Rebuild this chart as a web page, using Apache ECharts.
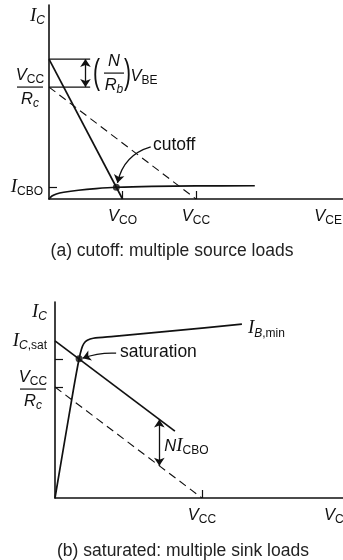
<!DOCTYPE html>
<html>
<head>
<meta charset="utf-8">
<script src="https://cdn.jsdelivr.net/npm/echarts@6/dist/echarts.min.js"></script>
<style>
  html, body { margin: 0; padding: 0; background: #fff; }
  #c { width: 343px; height: 560px; }
</style>
</head>
<body>
<div id="c"></div>
<script>
// ---- Panel (a): cutoff, multiple source loads ----
const aVCO = 25;                 // load-line intercept on V_CE
const aVCC = 50;                 // supply voltage on V_CE
const aVccRc = 60;               // V_CC / R_c on I_C
const aTopIc = 75;               // V_CC/R_c + (N/R_b) V_BE
const aICBO = 6.4;               // leakage level tick
const aBracketEnd = 14;          // length of the bracket guide lines
const aBracketArrowX = 12.4;
const aLoadLine = [[0, aTopIc], [aVCO, 0]];
const aDashedLine = [[0, aVccRc], [aVCC, 0]];
const aLeakCurve = [[0, 0], [1, 1.6], [2.5, 2.7], [5, 3.6], [10, 4.7], [16, 5.6], [22.9, 6.3], [35, 6.8], [50, 7.0], [70, 7.1]];
const aCutoffPoint = [22.9, 6.3];
const aCutoffArrowFrom = [34.6, 27.9];
const aCutoffArrowTo = [23.3, 8.6];

// ---- Panel (b): saturated, multiple sink loads ----
const bVCC = 50;
const bVccRc = 60;
const bICsat = 85;
const bLoadLine = [[0, bICsat], [40.8, 36.2]];
const bDashedLine = [[0, bVccRc], [bVCC, 0]];
const bBaseCurve = [[0, 0], [6.2, 58], [8.2, 75.3], [9.0, 80.5], [9.8, 83.5], [11, 85.3], [13, 86.4], [20, 87.4], [40, 90.4], [63.6, 94]];
const bSatPoint = [8.2, 75.3];
const bSatArrowFrom = [20.8, 78.3];
const bSatArrowTo = [9.4, 75.6];
const bNIcboX = 35.5;
const bNIcbo = [[bNIcboX, 17.4], [bNIcboX, 42.5]];

const ink = '#111';
const axisStyle = { lineStyle: { color: ink, width: 1.6 } };

function plainAxis(gridIndex, max, ticks) {
  return {
    type: 'value', gridIndex, min: 0, max,
    axisLine: Object.assign({ show: true, onZero: false }, axisStyle),
    axisTick: ticks.length
      ? { show: true, inside: true, length: 8, customValues: ticks, lineStyle: { color: ink, width: 1.2 } }
      : { show: false },
    axisLabel: { show: false },
    splitLine: { show: false }
  };
}

function lineSeries(grid, data, opts) {
  return Object.assign({
    type: 'line', xAxisIndex: grid, yAxisIndex: grid, data,
    symbol: 'none', silent: true, animation: false,
    lineStyle: { color: ink, width: 1.7 }
  }, opts || {});
}

function arrowSeries(grid, from, to, both, curveness) {
  return {
    type: 'lines', coordinateSystem: 'cartesian2d', xAxisIndex: grid, yAxisIndex: grid,
    symbol: both ? ['arrow', 'arrow'] : ['none', 'arrow'], symbolSize: 8,
    lineStyle: { color: ink, width: 1.3, curveness: curveness || 0, opacity: 1 },
    silent: true, animation: false, clip: false,
    data: [{ coords: [from, to] }]
  };
}

const dashed = { lineStyle: { color: ink, width: 1.1, type: [8, 5] } };

const chart = echarts.init(document.getElementById('c'), null, { renderer: 'canvas' });

chart.setOption({
  animation: false,
  grid: [
    { left: 49, top: 5, right: 0, bottom: 361 },
    { left: 55, top: 302, right: 0, bottom: 62 }
  ],
  xAxis: [plainAxis(0, 100, [aVCO, aVCC]), plainAxis(1, 98, [bVCC])],
  yAxis: [plainAxis(0, 104, [aICBO]), plainAxis(1, 106, [bSatPoint[1], bVccRc])],
  series: [
    lineSeries(0, aLoadLine),
    lineSeries(0, aDashedLine, dashed),
    lineSeries(0, aLeakCurve, { smooth: 0.3 }),
    lineSeries(0, [[0, aTopIc], [aBracketEnd, aTopIc]], { lineStyle: { color: ink, width: 1.2 } }),
    lineSeries(0, [[0, aVccRc], [aBracketEnd, aVccRc]], { lineStyle: { color: ink, width: 1.2 } }),
    arrowSeries(0, [aBracketArrowX, aVccRc], [aBracketArrowX, aTopIc], true),
    arrowSeries(0, aCutoffArrowFrom, aCutoffArrowTo, false, -0.3),
    { type: 'scatter', xAxisIndex: 0, yAxisIndex: 0, data: [aCutoffPoint], symbolSize: 7,
      itemStyle: { color: ink }, silent: true, animation: false },

    lineSeries(1, bLoadLine),
    lineSeries(1, bDashedLine, dashed),
    lineSeries(1, bBaseCurve, { smooth: 0.25 }),
    arrowSeries(1, bNIcbo[0], bNIcbo[1], true),
    arrowSeries(1, bSatArrowFrom, bSatArrowTo, false, -0.1),
    { type: 'scatter', xAxisIndex: 1, yAxisIndex: 1, data: [bSatPoint], symbolSize: 7,
      itemStyle: { color: ink }, silent: true, animation: false }
  ]
});

// ---- text labels, anchored to axis positions ----
const rich = {
  I: { fontFamily: 'Liberation Serif', fontStyle: 'italic', fontSize: 19, lineHeight: 22 },
  V: { fontFamily: 'Liberation Sans', fontStyle: 'italic', fontSize: 16.5, lineHeight: 22 },
  s: { fontFamily: 'Liberation Sans', fontSize: 12, lineHeight: 12, verticalAlign: 'bottom' },
  si: { fontFamily: 'Liberation Sans', fontStyle: 'italic', fontSize: 12, lineHeight: 12, verticalAlign: 'bottom' }
};
const pa = p => chart.convertToPixel({ gridIndex: 0 }, p);
const pb = p => chart.convertToPixel({ gridIndex: 1 }, p);

function label(x, y, text, align, vAlign, extra) {
  return {
    type: 'text', x, y, silent: true, z: 10,
    style: Object.assign({ text, rich, fill: ink, align, verticalAlign: vAlign,
      fontFamily: 'Liberation Sans', fontSize: 16 }, extra || {})
  };
}
function bar(x1, x2, y) {
  return { type: 'line', silent: true, z: 10,
    shape: { x1, y1: y, x2, y2: y }, style: { stroke: ink, lineWidth: 1.2 } };
}
function fraction(cx, y, num, den, half) {
  return [
    label(cx, y - 1, num, 'center', 'bottom'),
    bar(cx - half, cx + half, y),
    label(cx, y + 1, den, 'center', 'top')
  ];
}
function paren(x, y, ch) {
  return { type: 'text', x, y, scaleY: 1.7, silent: true, z: 10,
    style: { text: ch, fill: ink, fontFamily: 'Liberation Sans', fontSize: 21,
      align: 'center', verticalAlign: 'middle' } };
}

const captionFont = { fontFamily: 'Liberation Sans', fontSize: 17.5, fill: '#222' };
const plainFont = { fontFamily: 'Liberation Sans', fontSize: 17.5 };

const aOrigin = pa([0, 0]);
const aTop = pa([0, 104]);
const aBr = pa([0, aTopIc]);
const aLo = pa([0, aVccRc]);
const aMidY = (aBr[1] + aLo[1]) / 2;
const bOrigin = pb([0, 0]);
const bTop = pb([0, 106]);
const bCurveEnd = pb(bBaseCurve[bBaseCurve.length - 1]);

const graphics = [
  // panel (a)
  label(aTop[0] - 4, aTop[1] + 11, '{I|I}{si|C}', 'right', 'middle'),
  ...fraction(aOrigin[0] - 19, aLo[1], '{V|V}{s|CC}', '{V|R}{si|c}', 13),
  paren(96.5, aMidY + 1, '('),
  paren(127.5, aMidY + 1, ')'),
  ...fraction(114, aMidY, '{V|N}', '{V|R}{si|b}', 10),
  label(130.5, aMidY + 3, '{V|V}{s|BE}', 'left', 'middle'),
  label(aOrigin[0] - 6, pa([0, aICBO])[1], '{I|I}{s|CBO}', 'right', 'middle'),
  label(pa([aVCO, 0])[0], aOrigin[1] + 6, '{V|V}{s|CO}', 'center', 'top'),
  label(pa([aVCC, 0])[0], aOrigin[1] + 6, '{V|V}{s|CC}', 'center', 'top'),
  label(342, aOrigin[1] + 6, '{V|V}{s|CE}', 'right', 'top'),
  label(153, 145, 'cutoff', 'left', 'middle', plainFont),
  label(172, 251, '(a) cutoff: multiple source loads', 'center', 'middle', captionFont),

  // panel (b)
  label(bTop[0] - 8, bTop[1] + 10, '{I|I}{si|C}', 'right', 'middle'),
  label(bTop[0] - 8, pb([0, bICsat])[1], '{I|I}{si|C}{s|,sat}', 'right', 'middle'),
  ...fraction(bOrigin[0] - 22, pb([0, bVccRc])[1] + 2, '{V|V}{s|CC}', '{V|R}{si|c}', 13),
  label(bCurveEnd[0] + 6, bCurveEnd[1] + 4, '{I|I}{si|B}{s|,min}', 'left', 'middle'),
  label(120, 352, 'saturation', 'left', 'middle', plainFont),
  label(pb([bNIcboX, 0])[0] + 5, 446, '{V|N}{I|I}{s|CBO}', 'left', 'middle'),
  label(pb([bVCC, 0])[0], bOrigin[1] + 6, '{V|V}{s|CC}', 'center', 'top'),
  label(324, bOrigin[1] + 6, '{V|V}{s|CE}', 'left', 'top'),
  label(183, 551, '(b) saturated: multiple sink loads', 'center', 'middle', captionFont)
];

chart.setOption({ graphic: graphics });
</script>
</body>
</html>
